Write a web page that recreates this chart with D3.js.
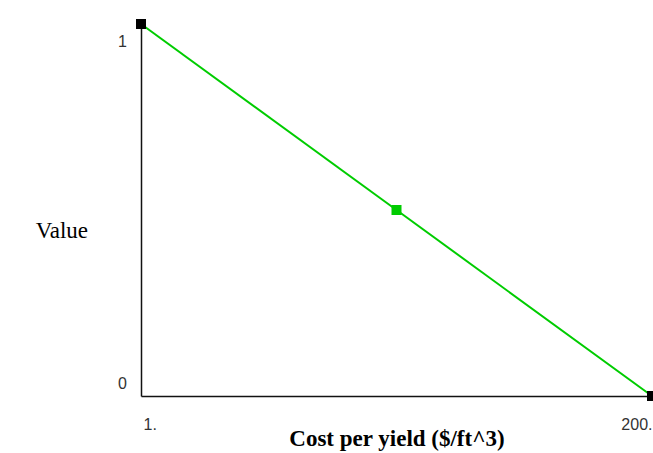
<!DOCTYPE html>
<html>
<head>
<meta charset="utf-8">
<script src="https://cdn.jsdelivr.net/npm/d3@7"></script>
<style>
  body { margin: 0; background: #fff; }
  svg { display: block; }
  .tick text { font-family: "Liberation Sans", Arial, sans-serif; font-size: 16px; fill: #333; }
</style>
</head>
<body>
<div id="chart"></div>
<script>
// data
var xValues = [1, 100.5, 200];
var yValues = [1, 0.5, 0];
var pointColors = ['#000000', '#00cc00', '#000000'];
var xTicks = [1, 200];
var xTickLabels = ['1.', '200.'];
var yTicks = [0, 1];
var yTickLabels = ['0', '1'];

var width = 653, height = 453;

var svg = d3.select('#chart').append('svg')
  .attr('width', width)
  .attr('height', height);

var x = d3.scaleLinear().domain([1, 200]).range([141, 652]);
var y = d3.scaleLinear().domain([0, 1]).range([396, 24]);

// y axis
var yAxis = svg.append('g')
  .attr('transform', 'translate(141,0)')
  .call(d3.axisLeft(y).tickValues(yTicks).tickSize(0).tickPadding(14)
    .tickFormat(function(d) { return yTickLabels[yTicks.indexOf(d)]; }));
yAxis.select('.domain').attr('stroke', '#111').attr('stroke-width', 1.5);
yAxis.selectAll('.tick text')
  .attr('dy', function(d) { return d === 1 ? 22 : -8; });

// x axis
var xAxis = svg.append('g')
  .attr('transform', 'translate(0,396)')
  .call(d3.axisBottom(x).tickValues(xTicks).tickSize(0).tickPadding(0)
    .tickFormat(function(d) { return xTickLabels[xTicks.indexOf(d)]; }));
xAxis.select('.domain').attr('stroke', '#111').attr('stroke-width', 1.5);
xAxis.selectAll('.tick text')
  .attr('dy', 34)
  .attr('text-anchor', function(d, i) { return i === 0 ? 'start' : 'end'; })
  .attr('dx', function(d, i) { return i === 0 ? 2 : 0; });

// line
var pts = xValues.map(function(v, i) { return { x: v, y: yValues[i], c: pointColors[i] }; });
var line = d3.line()
  .x(function(d) { return x(d.x); })
  .y(function(d) { return y(d.y); });

svg.append('path')
  .datum(pts)
  .attr('d', line)
  .attr('fill', 'none')
  .attr('stroke', '#00cc00')
  .attr('stroke-width', 2);

var sq = 10;
svg.selectAll('rect.pt')
  .data(pts)
  .enter().append('rect')
  .attr('class', 'pt')
  .attr('x', function(d) { return x(d.x) - sq / 2; })
  .attr('y', function(d) { return y(d.y) - sq / 2; })
  .attr('width', sq)
  .attr('height', sq)
  .attr('fill', function(d) { return d.c; });

// titles
svg.append('text')
  .attr('x', 88)
  .attr('y', 238)
  .attr('text-anchor', 'end')
  .attr('font-family', '"Liberation Serif", "Times New Roman", serif')
  .attr('font-size', 23)
  .text('Value');

svg.append('text')
  .attr('x', 397)
  .attr('y', 446)
  .attr('text-anchor', 'middle')
  .attr('font-family', '"Liberation Serif", "Times New Roman", serif')
  .attr('font-weight', 'bold')
  .attr('font-size', 23)
  .text('Cost per yield ($/ft^3)');
</script>
</body>
</html>
